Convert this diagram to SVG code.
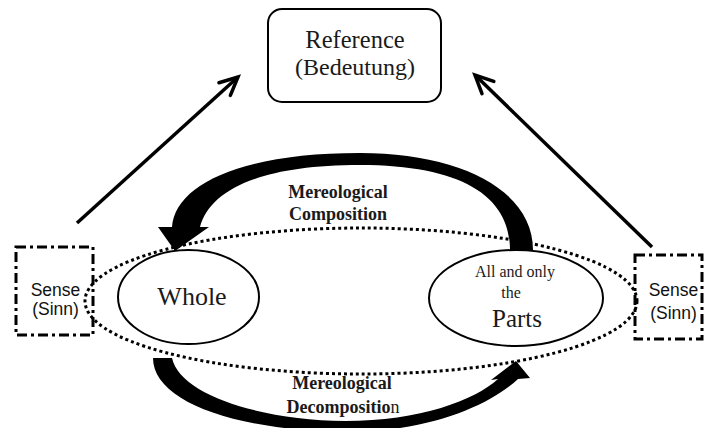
<svg xmlns="http://www.w3.org/2000/svg" width="705" height="428" viewBox="0 0 705 428">
  <style>
    .serif { font-family: "Liberation Serif", "Times New Roman", serif; fill: #1a1a1a; text-anchor: middle; }
    .sans { font-family: "Liberation Sans", Arial, sans-serif; fill: #111; text-anchor: middle; font-size: 17.5px; }
    .bold { font-weight: bold; font-size: 18px; }
    .sense { fill: none; stroke: #000; stroke-width: 3; stroke-dasharray: 10 4 3 4; }
    .oval { fill: #fff; stroke: #000; stroke-width: 2; }
    .thin { fill: none; stroke: #000; stroke-width: 3.5; marker-end: url(#open); }
    .fat { fill: #000; stroke: none; }
  </style>
  <defs>
    <marker id="open" markerUnits="userSpaceOnUse" viewBox="-22 -12 26 24" refX="0" refY="0" markerWidth="26" markerHeight="24" orient="auto">
      <path d="M -18,-8.5 L 0,0 L -18,8.5" fill="none" stroke="#000" stroke-width="3.5" stroke-linejoin="miter" stroke-linecap="round"/>
    </marker>
  </defs>

  <rect width="705" height="428" fill="#fff"/>

  <!-- dotted outline enclosing whole and parts -->
  <g id="domain">
    <ellipse cx="361" cy="301" rx="276" ry="73" fill="none" stroke="#000" stroke-width="3" stroke-dasharray="3 3"/>
  </g>

  <g id="connectors">
    <line class="thin" x1="77" y1="223" x2="238" y2="77"/>
    <line class="thin" x1="652" y1="247" x2="475" y2="75"/>
    <!-- composition: parts up and over to whole -->
    <path class="fat" d="M 533,250 C 533,190 460,153 360,153 C 240,153 175,185 172,227 L 158,227 L 175,251 L 209,227 L 200,227 C 210,190 260,165 360,165 C 460,165 510,195 510,250 Z"/>
    <!-- decomposition: whole down and under to parts -->
    <path class="fat" d="M 153,358 L 172,358 C 180,395 260,420 345,421 C 420,421 475,400 498,379 L 491,380 L 516,361 L 530,378 L 518,379 C 490,405 430,432 345,432 C 230,430 153,400 153,358 Z"/>
  </g>

  <g id="reference">
    <rect x="268" y="9" width="173" height="93" rx="14" ry="14" fill="#fff" stroke="#000" stroke-width="2"/>
    <text class="serif" x="355" y="48" font-size="24.5">Reference</text>
    <text class="serif" x="355" y="75" font-size="24">(Bedeutung)</text>
  </g>

  <g id="whole">
    <ellipse class="oval" cx="188.5" cy="297" rx="70.5" ry="47"/>
    <text class="serif" x="192" y="305" font-size="26">Whole</text>
  </g>

  <g id="parts">
    <ellipse class="oval" cx="516" cy="298" rx="87" ry="48"/>
    <text class="serif" x="515" y="277" font-size="16">All and only</text>
    <text class="serif" x="511" y="298" font-size="16">the</text>
    <text class="serif" x="517" y="327" font-size="25">Parts</text>
  </g>

  <g id="sense-left">
    <rect class="sense" x="16" y="247" width="77" height="88"/>
    <text class="sans" x="55.5" y="296">Sense</text>
    <text class="sans" x="55.5" y="315">(Sinn)</text>
  </g>

  <g id="sense-right">
    <rect class="sense" x="635" y="255" width="67" height="84"/>
    <text class="sans" x="673.5" y="296">Sense</text>
    <text class="sans" x="673.5" y="319">(Sinn)</text>
  </g>

  <g id="composition-label">
    <text class="serif bold" x="338" y="198">Mereological</text>
    <text class="serif bold" x="338" y="220">Composition</text>
  </g>

  <g id="decomposition-label">
    <text class="serif bold" x="342" y="389">Mereological</text>
    <text class="serif bold" x="343" y="413">Decompositio<tspan font-weight="normal">n</tspan></text>
  </g>
</svg>
